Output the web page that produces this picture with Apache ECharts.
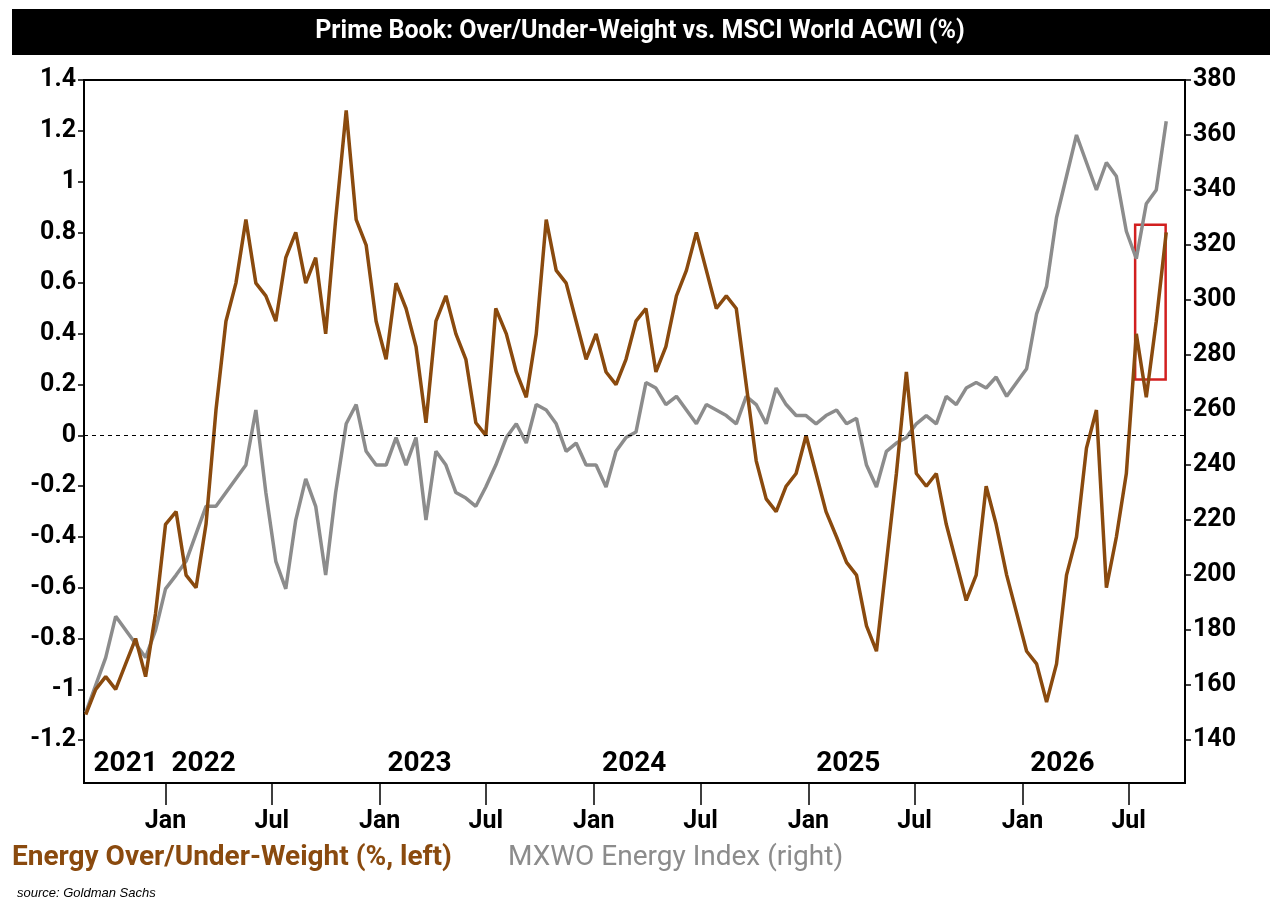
<!DOCTYPE html>
<html><head><meta charset="utf-8">
<script src="https://cdn.jsdelivr.net/npm/echarts@6/dist/echarts.min.js"></script>
<style>html,body{margin:0;padding:0;background:#fff}#c{width:1280px;height:909px}</style>
</head><body><div id="c"></div>
<script>
const startDate = '2021-08-18';
const stepDays = 17.06;
const energyWeight = [
-1.1,-1.0,-0.95,-1.0,-0.9,-0.8,-0.95,-0.7,-0.35,-0.3,
-0.55,-0.6,-0.35,0.1,0.45,0.6,0.85,0.6,0.55,0.45,
0.7,0.8,0.6,0.7,0.4,0.85,1.28,0.85,0.75,0.45,
0.3,0.6,0.5,0.35,0.05,0.45,0.55,0.4,0.3,0.05,
0.0,0.5,0.4,0.25,0.15,0.4,0.85,0.65,0.6,0.45,
0.3,0.4,0.25,0.2,0.3,0.45,0.5,0.25,0.35,0.55,
0.65,0.8,0.65,0.5,0.55,0.5,0.2,-0.1,-0.25,-0.3,
-0.2,-0.15,0.0,-0.15,-0.3,-0.4,-0.5,-0.55,-0.75,-0.85,
-0.5,-0.15,0.25,-0.15,-0.2,-0.15,-0.35,-0.5,-0.65,-0.55,
-0.2,-0.35,-0.55,-0.7,-0.85,-0.9,-1.05,-0.9,-0.55,-0.4,
-0.05,0.1,-0.6,-0.4,-0.15,0.4,0.15,0.45,0.8];
const energyIndex = [
150,160,170,185,180,175,170,180,195,200,
205,215,225,225,230,235,240,260,230,205,
195,220,235,225,200,230,255,262,245,240,
240,250,240,250,220,245,240,230,228,225,
232,240,250,255,248,262,260,255,245,248,
240,240,232,245,250,252,270,268,262,265,
260,255,262,260,258,255,265,262,255,268,
262,258,258,255,258,260,255,257,240,232,
245,248,250,255,258,255,265,262,268,270,
268,272,265,270,275,295,305,330,345,360,
350,340,350,345,325,315,335,340,365];
const leftTicks = [1.4,1.2,1,0.8,0.6,0.4,0.2,0,-0.2,-0.4,-0.6,-0.8,-1,-1.2];
const rightTicks = [380,360,340,320,300,280,260,240,220,200,180,160,140];
const monthTicks = ['2022-01-01','2022-07-01','2023-01-01','2023-07-01','2024-01-01','2024-07-01','2025-01-01','2025-07-01','2026-01-01','2026-07-01'];
const monthLabels = ['Jan','Jul','Jan','Jul','Jan','Jul','Jan','Jul','Jan','Jul'];
const yearLabels = [['2021','2021-10-25'],['2022','2022-03-07'],['2023','2023-03-10'],['2024','2024-03-10'],['2025','2025-03-10'],['2026','2026-03-10']];
const highlightBox = [['2026-07-12',0.83],['2026-09-02',0.22]];

const t0 = Date.parse(startDate);
const dates = energyWeight.map((_, i) => t0 + Math.round(i*stepDays)*86400000);
const brown = '#8a4a0e', grey = '#8c8c8c';
const F = "'Liberation Sans Narrow','Roboto',sans-serif";
const mt = monthTicks.map(d => Date.parse(d));

const chart = echarts.init(document.getElementById('c'));
chart.setOption({
  animation:false,
  grid:{left:84,right:95,top:80,bottom:126},
  xAxis:{type:'value',min:Date.parse('2021-08-15'),max:Date.parse('2026-10-05'),
    axisLine:{onZero:false,lineStyle:{color:'#000',width:2}},
    splitLine:{show:false},
    axisTick:{show:true,customValues:mt,length:22,lineStyle:{color:'#000',width:1.5}},
    axisLabel:{customValues:mt,margin:26,fontFamily:F,fontWeight:'bold',fontSize:25,color:'#000',
      formatter:(v)=>{const i=mt.indexOf(v);return i>=0?monthLabels[i]:'';}}},
  yAxis:[
    {type:'value',min:-1.369,max:1.4,position:'left',splitLine:{show:false},
     axisLine:{show:true,lineStyle:{color:'#000',width:2}},
     axisTick:{show:true,customValues:leftTicks,length:6,lineStyle:{color:'#000',width:1.5}},
     axisLabel:{customValues:leftTicks,fontFamily:F,fontWeight:'bold',fontSize:25,color:'#000',margin:8}},
    {type:'value',min:124.4,max:380,position:'right',splitLine:{show:false},
     axisLine:{show:true,lineStyle:{color:'#000',width:2}},
     axisTick:{show:true,customValues:rightTicks,length:6,lineStyle:{color:'#000',width:1.5}},
     axisLabel:{customValues:rightTicks,fontFamily:F,fontWeight:'bold',fontSize:25,color:'#000',margin:8}}
  ],
  series:[
    {type:'line',yAxisIndex:1,data:dates.map((d,i)=>[d,energyIndex[i]]),showSymbol:false,
     lineStyle:{color:grey,width:3.5}},
    {type:'line',yAxisIndex:0,data:dates.map((d,i)=>[d,energyWeight[i]]),showSymbol:false,
     lineStyle:{color:brown,width:3.5},
     markLine:{silent:true,symbol:'none',label:{show:false},lineStyle:{color:'#000',type:[4,4],width:1.2},data:[{yAxis:0}]},
     markArea:{silent:true,itemStyle:{color:'rgba(0,0,0,0)',borderColor:'#d21f1f',borderWidth:2.5},
       data:[[{coord:[Date.parse(highlightBox[0][0]),highlightBox[0][1]]},{coord:[Date.parse(highlightBox[1][0]),highlightBox[1][1]]}]]}}
  ]
});
const yPix = chart.convertToPixel({yAxisIndex:0}, -1.2) + 24;
const g = [
  {type:'rect',shape:{x:12,y:9,width:1258,height:46},style:{fill:'#000'}},
  {type:'rect',shape:{x:84,y:80,width:1101,height:703},style:{fill:'none',stroke:'#000',lineWidth:2},silent:true},
  {type:'text',x:640,y:32,style:{text:'Prime Book: Over/Under-Weight vs. MSCI World ACWI (%)',fill:'#fff',font:"bold 25px "+F,align:'center',verticalAlign:'middle'}},
  {type:'text',x:12,y:858,style:{text:'Energy Over/Under-Weight (%, left)',fill:brown,font:"bold 28px "+F,verticalAlign:'middle'}},
  {type:'text',x:508,y:858,style:{text:'MXWO Energy Index (right)',fill:grey,font:"28px "+F,verticalAlign:'middle'}},
  {type:'text',x:17,y:893,style:{text:'source: Goldman Sachs',fill:'#000',font:"italic 13px 'Liberation Sans',sans-serif",verticalAlign:'middle'}}
];
yearLabels.forEach(([t,d])=>{
  g.push({type:'text',x:chart.convertToPixel({xAxisIndex:0},Date.parse(d)),y:yPix,
    style:{text:t,fill:'#000',font:"bold 28px "+F,align:'center',verticalAlign:'middle'}});
});
chart.setOption({graphic:g});
</script></body></html>
